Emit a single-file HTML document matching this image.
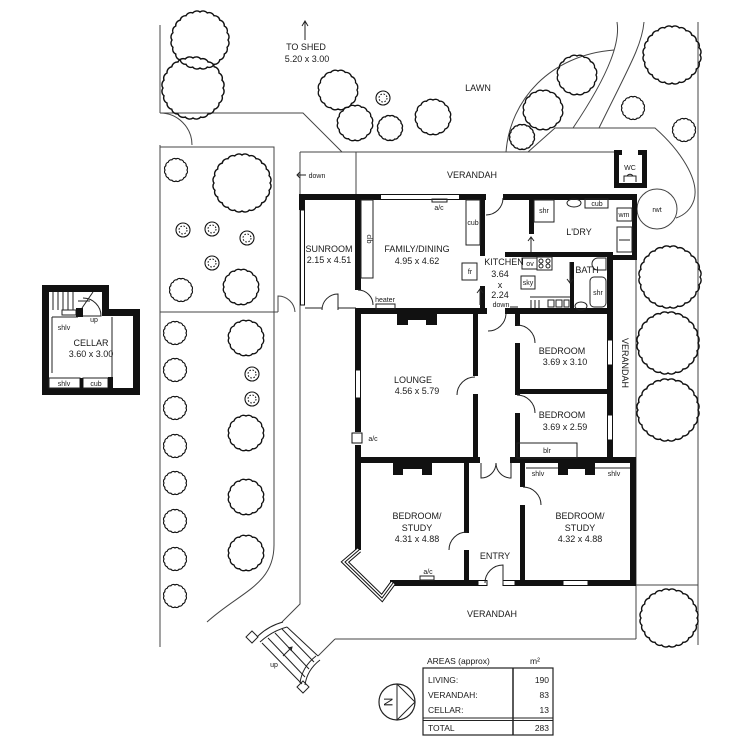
<!DOCTYPE html>
<html><head><meta charset="utf-8"><style>
html,body{margin:0;padding:0;background:#fff}
svg{display:block}
text{font-family:"Liberation Sans",sans-serif;fill:#1a1a1a}
.l{font-size:9px}
.s{font-size:7px}
</style></head><body>
<svg width="750" height="750" viewBox="0 0 750 750" xmlns="http://www.w3.org/2000/svg">
<defs>
<g id="t24"><path fill="none" stroke="#111" d="M10,0 A1.9,1.9 0 0 1 9.66,2.59 A1.9,1.9 0 0 1 8.66,5 A1.9,1.9 0 0 1 7.07,7.07 A1.9,1.9 0 0 1 5,8.66 A1.9,1.9 0 0 1 2.59,9.66 A1.9,1.9 0 0 1 0,10 A1.9,1.9 0 0 1 -2.59,9.66 A1.9,1.9 0 0 1 -5,8.66 A1.9,1.9 0 0 1 -7.07,7.07 A1.9,1.9 0 0 1 -8.66,5 A1.9,1.9 0 0 1 -9.66,2.59 A1.9,1.9 0 0 1 -10,0 A1.9,1.9 0 0 1 -9.66,-2.59 A1.9,1.9 0 0 1 -8.66,-5 A1.9,1.9 0 0 1 -7.07,-7.07 A1.9,1.9 0 0 1 -5,-8.66 A1.9,1.9 0 0 1 -2.59,-9.66 A1.9,1.9 0 0 1 0,-10 A1.9,1.9 0 0 1 2.59,-9.66 A1.9,1.9 0 0 1 5,-8.66 A1.9,1.9 0 0 1 7.07,-7.07 A1.9,1.9 0 0 1 8.66,-5 A1.9,1.9 0 0 1 9.66,-2.59 A1.9,1.9 0 0 1 10,0 Z"/></g>
<g id="t16"><path fill="none" stroke="#111" d="M10,0 A2.9,2.9 0 0 1 9.24,3.83 A2.9,2.9 0 0 1 7.07,7.07 A2.9,2.9 0 0 1 3.83,9.24 A2.9,2.9 0 0 1 0,10 A2.9,2.9 0 0 1 -3.83,9.24 A2.9,2.9 0 0 1 -7.07,7.07 A2.9,2.9 0 0 1 -9.24,3.83 A2.9,2.9 0 0 1 -10,0 A2.9,2.9 0 0 1 -9.24,-3.83 A2.9,2.9 0 0 1 -7.07,-7.07 A2.9,2.9 0 0 1 -3.83,-9.24 A2.9,2.9 0 0 1 0,-10 A2.9,2.9 0 0 1 3.83,-9.24 A2.9,2.9 0 0 1 7.07,-7.07 A2.9,2.9 0 0 1 9.24,-3.83 A2.9,2.9 0 0 1 10,0 Z"/></g>
<g id="st"><circle r="7" fill="none" stroke="#111" stroke-width="1.1"/><circle r="4" fill="none" stroke="#111" stroke-width="1" stroke-dasharray="1.6 1.6"/></g>
</defs>

<!-- site lines -->
<g fill="none" stroke="#444" stroke-width="1">
<path d="M160,25 V113"/>
<path d="M160,113 A32,32 0 0 1 192,145"/>
<path d="M160,113 H303 L342,152"/>
<path d="M160,147 H274 V312"/>
<path d="M160,145 V647"/>
<path d="M160,312 H278"/>
<path d="M274,312 V545 C274,585 240,592 207,622"/>
<path d="M278,312 V296 A17,17 0 0 1 295,312"/>
<path d="M300,152 V604 L282,622"/>
<path d="M300,152 H614"/>
<path d="M356,152 V197"/>
<path d="M506,152 C510,100 550,55 614,50"/>
<path d="M617,22 C620,40 612,70 573,128"/>
<path d="M644,22 C642,45 630,65 599,128"/>
<path d="M528,152 L555,128 H655 C680,150 700,180 694,200 C690,212 682,216 676,218"/>
<path d="M698,22 V645"/>
<path d="M636,258 V639"/>
<path d="M636,585 H698"/>
<path d="M335,639 H636"/>
<path d="M335,639 L318,656"/>
<circle cx="657" cy="209" r="20"/>
</g>

<!-- trees -->
<g>
<use href="#t24" transform="translate(200 40) scale(2.8)" stroke-width="0.5"/>
<use href="#t24" transform="translate(193 88) scale(3)" stroke-width="0.47"/>
<use href="#t16" transform="translate(338 90) scale(1.9)" stroke-width="0.7"/>
<use href="#t16" transform="translate(355 123) scale(1.7)" stroke-width="0.8"/>
<use href="#t16" transform="translate(433 117) scale(1.7)" stroke-width="0.8"/>
<use href="#t24" transform="translate(242 183) scale(2.8)" stroke-width="0.5"/>
<use href="#t16" transform="translate(241 287) scale(1.7)" stroke-width="0.8"/>
<use href="#t16" transform="translate(246 338) scale(1.7)" stroke-width="0.8"/>
<use href="#t16" transform="translate(246 433) scale(1.7)" stroke-width="0.8"/>
<use href="#t16" transform="translate(246 497) scale(1.7)" stroke-width="0.8"/>
<use href="#t16" transform="translate(246 553) scale(1.7)" stroke-width="0.8"/>
<use href="#t16" transform="translate(577 75) scale(1.9)" stroke-width="0.7"/>
<use href="#t16" transform="translate(543 110) scale(1.9)" stroke-width="0.7"/>
<use href="#t24" transform="translate(672 55) scale(2.8)" stroke-width="0.5"/>
<use href="#t24" transform="translate(670 277) scale(3)" stroke-width="0.47"/>
<use href="#t24" transform="translate(668 343) scale(3)" stroke-width="0.47"/>
<use href="#t24" transform="translate(668 410) scale(3)" stroke-width="0.47"/>
<use href="#t24" transform="translate(669 618) scale(2.8)" stroke-width="0.5"/>
<!-- small -->
<use href="#t16" transform="translate(176 170) scale(1.1)" stroke-width="1.1"/>
<use href="#t16" transform="translate(181 290) scale(1.1)" stroke-width="1.1"/>
<use href="#t16" transform="translate(175 333) scale(1.1)" stroke-width="1.1"/>
<use href="#t16" transform="translate(175 370) scale(1.1)" stroke-width="1.1"/>
<use href="#t16" transform="translate(175 408) scale(1.1)" stroke-width="1.1"/>
<use href="#t16" transform="translate(175 446) scale(1.1)" stroke-width="1.1"/>
<use href="#t16" transform="translate(175 483) scale(1.1)" stroke-width="1.1"/>
<use href="#t16" transform="translate(175 521) scale(1.1)" stroke-width="1.1"/>
<use href="#t16" transform="translate(175 559) scale(1.1)" stroke-width="1.1"/>
<use href="#t16" transform="translate(175 596) scale(1.1)" stroke-width="1.1"/>
<use href="#t16" transform="translate(390 128) scale(1.2)" stroke-width="1.1"/>
<use href="#t16" transform="translate(522 137) scale(1.2)" stroke-width="1.1"/>
<use href="#t16" transform="translate(633 108) scale(1.1)" stroke-width="1.1"/>
<use href="#t16" transform="translate(684 130) scale(1.1)" stroke-width="1.1"/>
<use href="#st" x="383" y="98"/>
<use href="#st" x="183" y="230"/>
<use href="#st" x="212" y="229"/>
<use href="#st" x="247" y="238"/>
<use href="#st" x="212" y="263"/>
<use href="#st" x="252" y="374"/>
<use href="#st" x="252" y="399"/>
</g>

<!-- walls -->
<g fill="#111">
<rect x="299" y="194" width="81" height="6"/>
<rect x="460" y="194" width="26" height="6"/>
<rect x="503" y="194" width="134" height="6"/>
<rect x="299" y="194" width="6" height="16"/>
<rect x="355" y="194" width="6" height="96"/>
<rect x="480" y="194" width="5" height="62"/>
<rect x="480" y="286" width="5" height="25"/>
<rect x="505" y="252" width="107" height="5"/>
<rect x="607" y="255" width="30" height="5"/>
<rect x="632" y="194" width="5" height="66"/>
<rect x="529" y="194" width="5" height="40"/>
<rect x="570" y="262" width="4" height="50"/>
<rect x="607" y="252" width="6" height="88"/>
<rect x="607" y="365" width="6" height="50"/>
<rect x="607" y="440" width="6" height="20"/>
<rect x="355" y="308" width="132" height="6"/>
<rect x="505" y="308" width="108" height="6"/>
<rect x="355" y="308" width="6" height="62"/>
<rect x="355" y="398" width="6" height="34"/>
<rect x="355" y="445" width="6" height="105"/>
<rect x="473" y="314" width="5" height="62"/>
<rect x="473" y="394" width="5" height="66"/>
<rect x="515" y="314" width="5" height="12"/>
<rect x="515" y="343" width="5" height="52"/>
<rect x="515" y="413" width="5" height="47"/>
<rect x="515" y="389" width="95" height="5"/>
<rect x="355" y="457" width="125" height="6"/>
<rect x="510" y="457" width="126" height="6"/>
<rect x="630" y="457" width="6" height="129"/>
<rect x="464" y="463" width="5" height="70"/>
<rect x="464" y="550" width="5" height="36"/>
<rect x="520" y="463" width="5" height="24"/>
<rect x="520" y="505" width="5" height="81"/>
<rect x="390" y="580" width="88" height="6"/>
<rect x="515" y="580" width="48" height="6"/>
<rect x="588" y="580" width="48" height="6"/>
<!-- fireplaces -->
<path d="M397,313 H437 V325 H426 V320 H408 V325 H397 Z"/>
<path d="M393,463 H432 V475 H422 V469 H403 V475 H393 Z"/>
<path d="M558,463 H595 V475 H585 V469 H568 V475 H558 Z"/>
<!-- WC -->
<path d="M614,150 H622 V155 H619 V183 H642 V155 H638 V150 H647 V188 H614 Z"/>
</g>

<!-- windows -->
<g fill="#fff" stroke="#111" stroke-width="1">
<rect x="380.5" y="194.5" width="79" height="5"/>
<rect x="300.5" y="210" width="4" height="95"/>
<rect x="355.5" y="370" width="5" height="28"/>
<rect x="607.5" y="340" width="5" height="25"/>
<rect x="607.5" y="415" width="5" height="25"/>
<rect x="478" y="580.5" width="9" height="5"/>
<rect x="503" y="580.5" width="12" height="5"/>
<rect x="563" y="580.5" width="25" height="5"/>
<rect x="352" y="433" width="10" height="10"/>
</g>
<polyline points="359,550 345,562 382,598 393,583" fill="none" stroke="#111" stroke-width="6"/>
<polyline points="359,550 345,562 382,598 393,583" fill="none" stroke="#fff" stroke-width="4"/>
<polyline points="359,550 345,562 382,598 393,583" fill="none" stroke="#111" stroke-width="1"/>

<!-- thin fixtures / doors -->
<g fill="none" stroke="#222" stroke-width="1">
<path d="M305,308 H322 M338,308 H356"/>
<path d="M322,310 A16,16 0 0 1 338,294 V310"/>
<path d="M358,290 A15,15 0 0 1 373,305"/>
<rect x="376" y="304" width="19" height="5"/>
<rect x="361" y="200" width="12" height="78"/>
<rect x="466" y="200" width="14" height="45"/>
<rect x="462" y="263" width="15" height="17"/>
<rect x="432" y="199" width="15" height="3"/>
<path d="M486,215 A17,17 0 0 0 503,198"/>
<path d="M488,331 A18,18 0 0 0 506,314"/>
<path d="M475,377 A18,18 0 0 0 457,395"/>
<path d="M517,325 A18,18 0 0 1 535,343"/>
<path d="M517,395 A18,18 0 0 1 535,413"/>
<path d="M523,487 A18,18 0 0 1 541,505"/>
<path d="M467,532 A18,18 0 0 0 449,550"/>
<path d="M485,583 A18,18 0 0 1 503,565 V583"/>
<path d="M481,463 V478 A15,15 0 0 0 496,463 M511,463 V478 A15,15 0 0 1 496,463"/>
<rect x="517" y="443" width="60" height="15"/>
<path d="M526,468 H558 M595,468 H630"/>
<rect x="420" y="576" width="14" height="4"/>
<!-- laundry -->
<rect x="534" y="200" width="20" height="22"/>
<ellipse cx="574" cy="203" rx="7" ry="4"/>
<rect x="585" y="199" width="23" height="9"/>
<rect x="617" y="208" width="15" height="13"/>
<rect x="617" y="227" width="15" height="25"/>
<path d="M619,240 H630"/>
<!-- kitchen -->
<rect x="522" y="258" width="15" height="11"/>
<rect x="537" y="257" width="15" height="13"/>
<circle cx="541" cy="261" r="2"/><circle cx="548" cy="261" r="2"/><circle cx="541" cy="266" r="2"/><circle cx="548" cy="266" r="2"/>
<rect x="521" y="276" width="14" height="13"/>
<path d="M530,297 H570"/>
<rect x="548" y="300" width="6" height="7"/><rect x="556" y="300" width="6" height="7"/><rect x="564" y="300" width="5" height="7"/>
<path d="M531,300 V308 M535,300 V308 M539,300 V308"/>
<!-- bath -->
<rect x="590" y="277" width="16" height="30" rx="4"/>
<ellipse cx="581" cy="306" rx="6" ry="4"/>
<path d="M598,258 H606 V270 H598 A6,6 0 0 1 598,258 Z"/>
<!-- arrows -->
<path d="M480,305 V289 M477,293 L480,289 L483,293"/>
<path d="M531,252 V237 M528,241 L531,237 L534,241"/>
<path d="M570,262 V283 M567,279 L570,283 L573,279"/>
<path d="M297,175 H306 M300,172 L297,175 L300,178"/>
<path d="M305,40 V21 M302,26 L305,21 L308,26"/>
<path d="M510,307 H518"/>
<!-- WC toilet -->
<path d="M624,182 V176 H636 V182 M627,176 A4,5 0 0 1 633,176"/>
</g>

<!-- cellar -->
<path d="M42,285 H109 V309 H140 V395 H42 Z" fill="#111"/>
<path d="M49,292 H102 V316 H133 V388 H49 Z" fill="#fff"/>
<g fill="none" stroke="#222" stroke-width="1">
<path d="M53,292 V310 M58,292 V310 M63,292 V310 M68,292 V310 M73,292 V310"/>
<rect x="62" y="310" width="14" height="5"/>
<path d="M83,298 A18,18 0 0 1 101,316 H83"/>
<path d="M78,301 H90 M93,292 L82,308"/>
<path d="M52,317 V373 M52,317 H78"/>
<path d="M112,317 V377"/>
<rect x="49" y="378" width="31" height="10"/>
<rect x="83" y="378" width="25" height="10"/>
</g>
<rect x="76" y="308" width="7" height="9" fill="#111"/>
<rect x="80" y="378" width="3" height="10" fill="#111"/>
<rect x="108" y="377" width="5" height="11" fill="#111"/>

<!-- steps -->
<g fill="none" stroke="#222" stroke-width="1">
<polygon points="252,631 258,637 252,643 246,637"/>
<polygon points="303,681 309,687 303,693 297,687"/>
<path d="M257,637 Q268,626 283,622"/>
<path d="M260,642 Q272,631 287,627"/>
<path d="M300,683 Q302,667 316,656"/>
<path d="M305,685 Q307,670 320,660"/>
<path d="M262,643 L302,684"/>
<path d="M268,638 L305,677"/>
<path d="M275,633 L309,669"/>
<path d="M282,629 L314,662"/>
<path d="M287,627 L318,656"/>
<path d="M283,656 L292,647 M288,648 L292,647 L291,651"/>
</g>

<!-- areas table -->
<g fill="none" stroke="#222">
<rect x="423" y="668" width="130" height="67" stroke-width="1.2"/>
<path d="M513,668 V735" stroke-width="1.5"/>
<path d="M423,718 H553 M423,720.5 H553" stroke-width="1"/>
<circle cx="397" cy="702" r="18" stroke-width="1.2"/>
<path d="M397,684 V720 M397,684 L415,702 L397,720" stroke-width="1"/>
</g>
<text x="388" y="702" style="font-size:12px" text-anchor="middle" transform="rotate(90 388 702) translate(0 4)">N</text>

<!-- labels -->
<g class="l" text-anchor="middle">
<text x="306" y="50">TO SHED</text>
<text x="307" y="62">5.20 x 3.00</text>
<text x="478" y="91">LAWN</text>
<text x="472" y="178">VERANDAH</text>
<text x="329" y="252">SUNROOM</text>
<text x="329" y="263">2.15 x 4.51</text>
<text x="417" y="252">FAMILY/DINING</text>
<text x="417" y="264">4.95 x 4.62</text>
<text x="504" y="265">KITCHEN</text>
<text x="500" y="277">3.64</text>
<text x="500" y="288">x</text>
<text x="500" y="298">2.24</text>
<text x="579" y="235">L'DRY</text>
<text x="587" y="273">BATH</text>
<text x="413" y="383">LOUNGE</text>
<text x="417" y="394">4.56 x 5.79</text>
<text x="562" y="354">BEDROOM</text>
<text x="565" y="365">3.69 x 3.10</text>
<text x="562" y="418">BEDROOM</text>
<text x="565" y="430">3.69 x 2.59</text>
<text x="417" y="519">BEDROOM/</text>
<text x="417" y="531">STUDY</text>
<text x="417" y="542">4.31 x 4.88</text>
<text x="580" y="519">BEDROOM/</text>
<text x="580" y="531">STUDY</text>
<text x="580" y="542">4.32 x 4.88</text>
<text x="495" y="559">ENTRY</text>
<text x="492" y="617">VERANDAH</text>
<text x="622" y="363" transform="rotate(90 622 363)">VERANDAH</text>
<text x="91" y="346">CELLAR</text>
<text x="91" y="357">3.60 x 3.00</text>
</g>
<g class="s" text-anchor="middle">
<text x="317" y="178">down</text>
<text x="439" y="210">a/c</text>
<text x="473" y="225">cub</text>
<text x="470" y="274">fr</text>
<text x="367" y="239" transform="rotate(90 367 239)">clb</text>
<text x="385" y="302">heater</text>
<text x="501" y="307">down</text>
<text x="530" y="266">ov</text>
<text x="528" y="285">sky</text>
<text x="544" y="213">shr</text>
<text x="597" y="206">cub</text>
<text x="624" y="217">wm</text>
<text x="598" y="295">shr</text>
<text x="630" y="170">WC</text>
<text x="657" y="212">rwt</text>
<text x="547" y="453">blr</text>
<text x="373" y="441">a/c</text>
<text x="428" y="574">a/c</text>
<text x="538" y="476">shlv</text>
<text x="614" y="476">shlv</text>
<text x="64" y="330">shlv</text>
<text x="94" y="322">up</text>
<text x="64" y="386">shlv</text>
<text x="96" y="386">cub</text>
<text x="274" y="667">up</text>
</g>
<g style="font-size:8.5px">
<text x="427" y="664">AREAS (approx)</text>
<text x="530" y="664">m²</text>
<text x="428" y="683">LIVING:</text>
<text x="428" y="698">VERANDAH:</text>
<text x="428" y="713">CELLAR:</text>
<text x="428" y="731">TOTAL</text>
<g text-anchor="end">
<text x="549" y="683">190</text>
<text x="549" y="698">83</text>
<text x="549" y="713">13</text>
<text x="549" y="731">283</text>
</g>
</g>
</svg>
</body></html>
